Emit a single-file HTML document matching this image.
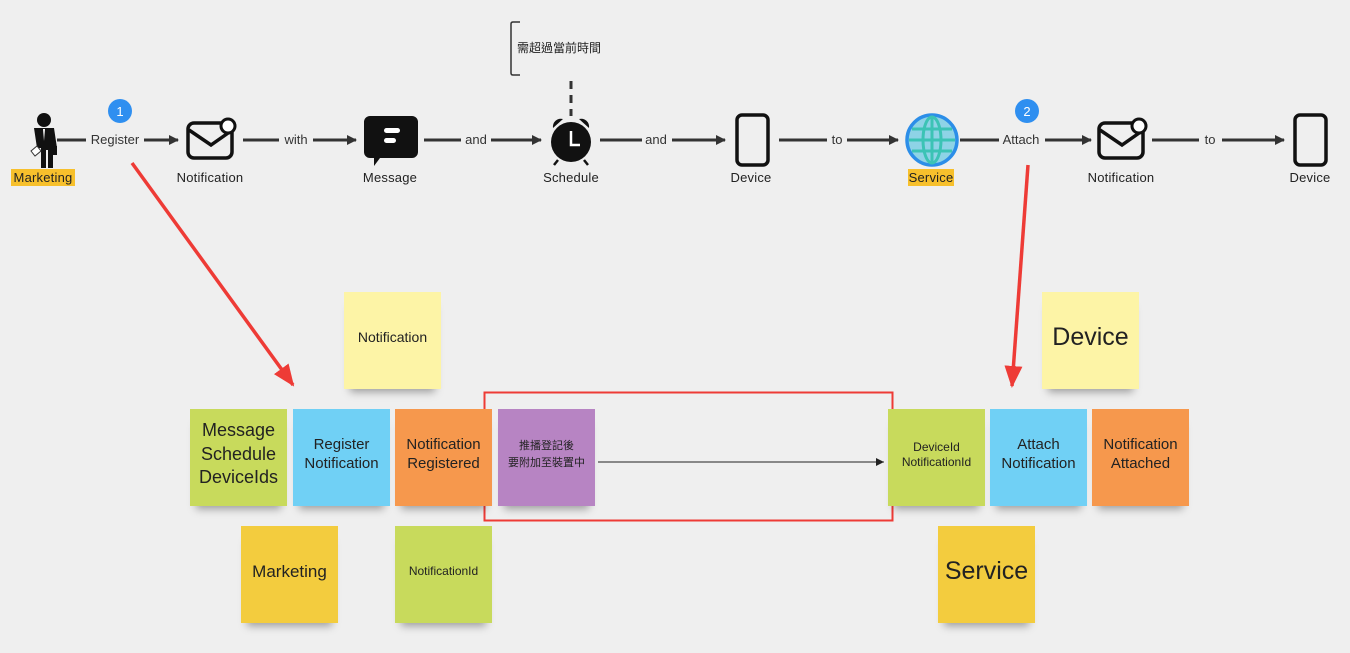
<!DOCTYPE html>
<html><head><meta charset="utf-8"><style>
body{margin:0;width:1350px;height:653px;background:#efefef;position:relative;overflow:hidden;font-family:"Liberation Sans","Noto Sans CJK TC",sans-serif;}
.s{position:absolute;width:97px;height:97px;box-sizing:border-box;padding-bottom:6px;display:flex;align-items:center;justify-content:center;text-align:center;color:#222;box-shadow:0 9px 8px -6px rgba(0,0,0,.35);line-height:1.25;}
svg{position:absolute;left:0;top:0}
</style></head><body>
<svg width="1350" height="653" viewBox="0 0 1350 653" font-family="Liberation Sans, Noto Sans CJK TC, sans-serif">
<defs>
<marker id="a" markerWidth="10" markerHeight="10" refX="9" refY="5" orient="auto" markerUnits="userSpaceOnUse"><path d="M0,0 L10,5 L0,10 z" fill="#333"/></marker>
<marker id="r" markerWidth="22" markerHeight="22" refX="20" refY="11" orient="auto" markerUnits="userSpaceOnUse"><path d="M0,2 L22,11 L0,20 z" fill="#ee3b36"/></marker>
</defs>
<g stroke="#333" stroke-width="3" fill="none">
<line x1="57" y1="140" x2="86" y2="140"/><line x1="144" y1="140" x2="178" y2="140" marker-end="url(#a)"/>
<line x1="243" y1="140" x2="279" y2="140"/><line x1="313" y1="140" x2="356" y2="140" marker-end="url(#a)"/>
<line x1="424" y1="140" x2="461" y2="140"/><line x1="491" y1="140" x2="541" y2="140" marker-end="url(#a)"/>
<line x1="600" y1="140" x2="642" y2="140"/><line x1="672" y1="140" x2="725" y2="140" marker-end="url(#a)"/>
<line x1="779" y1="140" x2="827" y2="140"/><line x1="847" y1="140" x2="898" y2="140" marker-end="url(#a)"/>
<line x1="960" y1="140" x2="999" y2="140"/><line x1="1045" y1="140" x2="1091" y2="140" marker-end="url(#a)"/>
<line x1="1152" y1="140" x2="1199" y2="140"/><line x1="1222" y1="140" x2="1284" y2="140" marker-end="url(#a)"/>
</g>
<g font-size="13" fill="#333" text-anchor="middle">
<text x="115" y="144">Register</text><text x="296" y="144">with</text><text x="476" y="144">and</text><text x="656" y="144">and</text><text x="837" y="144">to</text><text x="1021" y="144">Attach</text><text x="1210" y="144">to</text>
</g>
<!-- person -->
<g fill="#111"><circle cx="44" cy="120" r="7"/><path d="M34,128 h20 l3,20 h-4 v20 h-5 v-18 h-2 v18 h-5 v-20 h-4 z"/><rect x="51" y="146" width="6" height="9"/></g>
<path d="M43,129 l1,12 l1,-12z" fill="#fff"/>
<path d="M31,151 l6,-5 l4,5 l-6,5z" fill="#fff" stroke="#333" stroke-width="1"/>
<!-- envelope 1 -->
<g fill="none" stroke="#111" stroke-width="3.5"><rect x="188" y="123" width="44" height="35" rx="6"/><path d="M189,130 l22,15 l20,-14"/></g>
<circle cx="228" cy="126" r="7" fill="#fff" stroke="#111" stroke-width="3"/>
<!-- message -->
<path d="M370,116 h42 a6,6 0 0 1 6,6 v30 a6,6 0 0 1 -6,6 h-32 l-6,8 v-8 h-4 a6,6 0 0 1 -6,-6 v-30 a6,6 0 0 1 6,-6z" fill="#111"/>
<rect x="384" y="128" width="16" height="5" rx="2.5" fill="#fff"/><rect x="384" y="138" width="12" height="5" rx="2.5" fill="#fff"/>
<!-- clock -->
<circle cx="571" cy="142" r="20" fill="#111"/><path d="M553,128 a8,8 0 0 1 10,-9 z M589,128 a8,8 0 0 0 -10,-9 z" fill="#111"/>
<path d="M571,131 v14 h9" stroke="#fff" stroke-width="2.5" fill="none"/><path d="M558,160 l-4,5 M584,160 l4,5" stroke="#111" stroke-width="2.5"/>
<line x1="571" y1="81" x2="571" y2="116" stroke="#333" stroke-width="3" stroke-dasharray="8,6"/>
<path d="M520,22 h-7 q-2,0 -2,2 v49 q0,2 2,2 h7" fill="none" stroke="#333" stroke-width="1.5"/>
<text x="517" y="52" font-size="12" fill="#222">需超過當前時間</text>
<!-- phones -->
<g fill="none" stroke="#111" stroke-width="3.5"><rect x="737" y="115" width="31" height="50" rx="5"/><rect x="1295" y="115" width="31" height="50" rx="5"/></g>
<!-- globe -->
<circle cx="932" cy="140" r="25" fill="#8ed3e6" stroke="#2c8ee8" stroke-width="3.5"/>
<g stroke="#3cc3b5" stroke-width="3" fill="none"><ellipse cx="932" cy="140" rx="9" ry="23"/><line x1="932" y1="117" x2="932" y2="163"/><line x1="909" y1="140" x2="955" y2="140"/><line x1="912" y1="129" x2="952" y2="129"/><line x1="912" y1="151" x2="952" y2="151"/></g>
<!-- envelope 2 -->
<g fill="none" stroke="#111" stroke-width="3.5"><rect x="1099" y="123" width="44" height="35" rx="6"/><path d="M1100,130 l22,15 l20,-14"/></g>
<circle cx="1139" cy="126" r="7" fill="#fff" stroke="#111" stroke-width="3"/>
<!-- labels -->
<rect x="11" y="169" width="64" height="17" fill="#f7c02c"/><rect x="908" y="169" width="46" height="17" fill="#f7c02c"/>
<g font-size="13" fill="#222" text-anchor="middle" letter-spacing="0.2">
<text x="43" y="182">Marketing</text><text x="210" y="182">Notification</text><text x="390" y="182">Message</text><text x="571" y="182">Schedule</text><text x="751" y="182">Device</text><text x="931" y="182">Service</text><text x="1121" y="182">Notification</text><text x="1310" y="182">Device</text>
</g>
<circle cx="120" cy="111" r="12" fill="#2f8ff0"/><text x="120" y="116" font-size="13" fill="#fff" text-anchor="middle">1</text>
<circle cx="1027" cy="111" r="12" fill="#2f8ff0"/><text x="1027" y="116" font-size="13" fill="#fff" text-anchor="middle">2</text>
<line x1="132" y1="163" x2="293" y2="385" stroke="#ee3b36" stroke-width="3.5" marker-end="url(#r)"/>
<line x1="1028" y1="165" x2="1012" y2="386" stroke="#ee3b36" stroke-width="3.5" marker-end="url(#r)"/>
<rect x="484.5" y="392.5" width="408" height="128" fill="none" stroke="#ee3b36" stroke-width="2"/>
</svg>
<div class="s" style="left:344px;top:292px;background:#fdf4a6;font-size:14px">Notification</div>
<div class="s" style="left:190px;top:409px;background:#c8da5c;font-size:18px;line-height:1.3">Message<br>Schedule<br>DeviceIds</div>
<div class="s" style="left:293px;top:409px;background:#70d0f5;font-size:15px">Register<br>Notification</div>
<div class="s" style="left:395px;top:409px;background:#f6984d;font-size:15px">Notification<br>Registered</div>
<div class="s" style="left:498px;top:409px;background:#b784c3;font-size:11px;line-height:1.5">推播登記後<br>要附加至裝置中</div>
<div class="s" style="left:241px;top:526px;background:#f3cc3e;font-size:17px">Marketing</div>
<div class="s" style="left:395px;top:526px;background:#c8da5c;font-size:12px">NotificationId</div>
<div class="s" style="left:1042px;top:292px;background:#fdf4a6;font-size:25px">Device</div>
<div class="s" style="left:888px;top:409px;background:#c8da5c;font-size:12px">DeviceId<br>NotificationId</div>
<div class="s" style="left:990px;top:409px;background:#70d0f5;font-size:15px">Attach<br>Notification</div>
<div class="s" style="left:1092px;top:409px;background:#f6984d;font-size:15px">Notification<br>Attached</div>
<div class="s" style="left:938px;top:526px;background:#f3cc3e;font-size:25px">Service</div>
<svg width="1350" height="653"><defs><marker id="k2" markerWidth="8" markerHeight="8" refX="8" refY="4" orient="auto" markerUnits="userSpaceOnUse"><path d="M0,0 L8,4 L0,8 z" fill="#222"/></marker></defs><line x1="598" y1="462" x2="884" y2="462" stroke="#222" stroke-width="1" marker-end="url(#k2)"/></svg>
</body></html>
